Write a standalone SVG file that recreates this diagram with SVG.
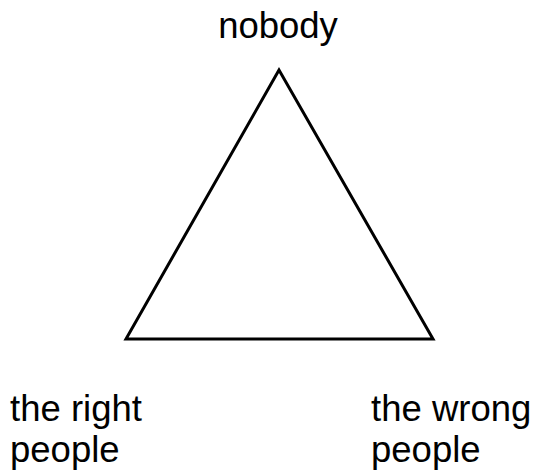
<svg xmlns="http://www.w3.org/2000/svg" width="536" height="471" viewBox="0 0 536 471">
<style>
text{font-family:"Liberation Sans",Arial,sans-serif;font-size:36.5px;fill:#000}
.tri{fill:none;stroke:#000;stroke-width:3;stroke-linejoin:miter}
</style>
<rect width="536" height="471" fill="#fff"/>
<g id="connectors">
<polygon class="tri" points="279,70 126,339 433,339"/>
</g>
<g id="node-top"><text x="278" y="38" text-anchor="middle">nobody</text></g>
<g id="node-left"><text x="10" y="421">the right</text><text x="10" y="462">people</text></g>
<g id="node-right"><text x="371" y="421">the wrong</text><text x="371" y="462">people</text></g>
</svg>
